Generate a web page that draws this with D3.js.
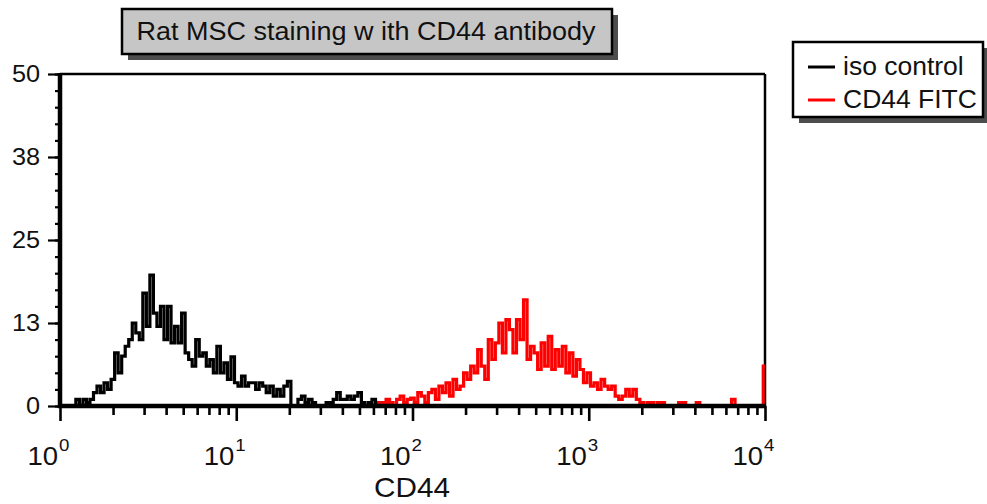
<!DOCTYPE html>
<html lang="en">
<head>
<meta charset="UTF-8">
<title>Rat MSC staining with CD44 antibody</title>
<style>
body { margin: 0; background: #fff; }
svg { display: block; font-family: "Liberation Sans", Arial, sans-serif; }
</style>
</head>
<body>
<svg id="chart" width="987" height="504"></svg>
<script src="https://d3js.org/d3.v7.min.js"></script>
<script>
// histogram bins, positions in decades (log10 of CD44 fluorescence)
const binStep = 0.02;
const isoStart = 0.06;
const isoCounts = [
  0, 0, 1, 0, 1, 0.5, 1, 2, 3, 2,
  3.5, 2.5, 4, 8, 5, 7.5, 9, 10, 12.5, 11,
  10, 17, 12, 19.7, 14, 12, 15, 10, 15, 9.5,
  12, 9.5, 14, 8, 7, 6, 10, 7.5, 8, 6,
  7, 5, 9, 5, 6.5, 4, 7.4, 3.5, 3, 4.5,
  3, 3.5, 3.5, 2.5, 3.5, 3, 2, 3, 1.5, 2.5,
  1.5, 3, 3.7, 0, 0, 1, 1.5, 0.5, 1, 0.5,
  0, 0, 0, 0.5, 0.5, 1, 2, 1, 1, 1.5,
  1, 1.5, 2, 0.5, 0, 0.5, 1, 0.5, 0, 0.5, 0
];
const cd44Start = 1.80;
const cd44Counts = [
  0.5, 0, 0.5, 1, 0.5, 0, 1, 1.5, 0.5, 1,
  1.2, 0.5, 2, 1.5, 0.5, 2, 2.5, 1, 3, 2,
  3.5, 1.5, 4, 2.5, 3, 5, 4, 6, 5, 8.5,
  6, 4, 10, 7, 9.5, 12.5, 8, 13, 11.5, 8,
  13, 10, 16, 7, 9, 8, 5.5, 9.5, 6, 10.5,
  5.5, 8.5, 6, 9, 5, 8, 4.5, 7, 5.5, 3.5,
  5, 3, 3.5, 2.5, 4, 3, 2.5, 3, 1.5, 1,
  1.5, 2.5, 1.5, 2.5, 1, 0.5, 0, 0.5, 0.5, 0,
  0.5, 0.5, 0, 0, 0, 0, 0.5, 0.5, 0, 0,
  0, 0.5, 0, 0, 0, 0, 0, 0, 0, 0,
  0, 1, 0, 0, 0, 0, 0, 0, 0, 0,
  6
];
const decades = [1, 10, 100, 1000, 10000];
const yTicks = [0, 12.5, 25, 37.5, 50];
const seriesNames = ["iso control", "CD44 FITC"];
const seriesColors = ["#000000", "#ff0000"];
const titleText = "Rat MSC staining w ith CD44 antibody";
const xTitle = "CD44";

const svg = d3.select("#chart");
const x = d3.scaleLog().domain([1, 1e4]).range([60, 765]);
const y = d3.scaleLinear().domain([0, 50]).range([406, 74]);

function toPoints(start, counts) {
  return counts.map((c, i) => ({ v: Math.pow(10, start + i * binStep), c: c }));
}

// the scanned text is a little wider than Arial, stretch it
function label(g, px, py, txt, size, anchor, sx) {
  return g.append("text")
    .attr("transform", `translate(${px},${py}) scale(${sx || 1.1},1)`)
    .attr("text-anchor", anchor || "start")
    .attr("font-size", size)
    .attr("fill", "#111")
    .text(txt);
}

svg.append("rect").attr("width", 987).attr("height", 504).attr("fill", "#fff");

// title box with drop shadow
const tg = svg.append("g");
tg.append("rect").attr("x", 128).attr("y", 15).attr("width", 490).attr("height", 45).attr("fill", "#4d4d4d");
tg.append("rect").attr("x", 122).attr("y", 9).attr("width", 490).attr("height", 45)
  .attr("fill", "#c6c6c6").attr("stroke", "#000").attr("stroke-width", 2.5);
label(tg, 366, 40, titleText, 25, "middle", 1.08);

// legend
const lg = svg.append("g");
lg.append("rect").attr("x", 799).attr("y", 48).attr("width", 190).attr("height", 75).attr("fill", "#4d4d4d");
lg.append("rect").attr("x", 793).attr("y", 42).attr("width", 190).attr("height", 75)
  .attr("fill", "#fff").attr("stroke", "#000").attr("stroke-width", 2.5);
seriesNames.forEach((name, i) => {
  const ly = 67 + i * 33;
  lg.append("line").attr("x1", 808).attr("x2", 835).attr("y1", ly).attr("y2", ly)
    .attr("stroke", seriesColors[i]).attr("stroke-width", 3);
  label(lg, 843, ly + 8, name, 25, "start", 1.06);
});

// frame: top and right edges
const plot = svg.append("g");
plot.append("line").attr("x1", x(1)).attr("x2", x(1e4)).attr("y1", y(50)).attr("y2", y(50))
  .attr("stroke", "#000").attr("stroke-width", 2.5);
plot.append("line").attr("x1", x(1e4)).attr("x2", x(1e4)).attr("y1", y(50)).attr("y2", y(0))
  .attr("stroke", "#000").attr("stroke-width", 2.5);

// histograms
const line = d3.line().x(d => x(d.v)).y(d => y(d.c)).curve(d3.curveStep);
[toPoints(isoStart, isoCounts), toPoints(cd44Start, cd44Counts)].forEach((pts, i) => {
  plot.append("path").datum(pts).attr("d", line)
    .attr("fill", "none").attr("stroke", seriesColors[i])
    .attr("stroke-width", 3.2).attr("stroke-linejoin", "miter");
});

// x axis
const minor = [];
decades.slice(0, -1).forEach(d => { for (let k = 2; k < 10; k++) minor.push(d * k); });
const xMinor = svg.append("g").attr("transform", `translate(0,${y(0)})`)
  .call(d3.axisBottom(x).tickValues(minor).tickSize(9).tickSizeOuter(0).tickFormat(""));
const xMajor = svg.append("g").attr("transform", `translate(0,${y(0)})`)
  .call(d3.axisBottom(x).tickValues(decades).tickSize(15).tickSizeOuter(0).tickFormat(""));
[xMinor, xMajor].forEach(g => {
  g.select(".domain").remove();
  g.selectAll(".tick line").attr("stroke", "#000").attr("stroke-width", 2.6);
});
svg.append("line").attr("x1", x(1) - 2).attr("x2", x(1e4) + 1).attr("y1", y(0)).attr("y2", y(0))
  .attr("stroke", "#000").attr("stroke-width", 4.5);

// y axis
const yMinor = d3.range(0, 50.01, 2.5);
const yMin = svg.append("g").attr("transform", `translate(${x(1)},0)`)
  .call(d3.axisLeft(y).tickValues(yMinor).tickSize(5).tickSizeOuter(0).tickFormat(""));
const yMaj = svg.append("g").attr("transform", `translate(${x(1)},0)`)
  .call(d3.axisLeft(y).tickValues(yTicks).tickSize(12).tickSizeOuter(0).tickFormat(""));
[yMin, yMaj].forEach(g => {
  g.select(".domain").remove();
  g.selectAll(".tick line").attr("stroke", "#000").attr("stroke-width", 2.2);
});
svg.append("line").attr("x1", x(1)).attr("x2", x(1)).attr("y1", y(50) - 1).attr("y2", y(0) + 2)
  .attr("stroke", "#000").attr("stroke-width", 4.5);

// tick labels
const labels = svg.append("g");
yTicks.forEach(v => label(labels, 40, y(v) + 8, Math.round(v), 23, "end"));
decades.forEach(d => {
  label(labels, x(d) - 2, 465, "10", 25, "end");
  label(labels, x(d) - 1, 451, Math.round(Math.log10(d)), 17);
});
label(labels, 412, 497, xTitle, 27, "middle");
</script>
</body>
</html>
